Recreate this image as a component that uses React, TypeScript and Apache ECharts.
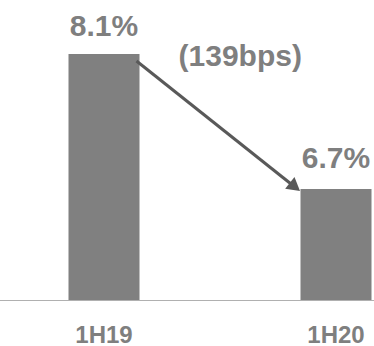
import React, { useEffect, useRef } from "react";
import * as echarts from "echarts";

// Half-year periods and their ratio values (%)
const categories = ["1H19", "1H20"];
const values = [8.1, 6.7];
const changeLabel = "(139bps)";

const BAR_COLOR = "#808080";
const TEXT_COLOR = "#7f7f7f";
const ARROW_COLOR = "#595959";
const FONT = "'Liberation Sans', Arial, sans-serif";
const BAR_WIDTH = 71;

// The plot is wider than the visible frame, so the second column sits
// near the right edge and the axis line runs across the whole frame.
const FRAME_W = 374;
const FRAME_H = 346;
const PLOT_OFFSET = -12.5;
const PLOT_W = 464;

export default function App() {
  const ref = useRef<HTMLDivElement>(null);

  useEffect(() => {
    if (!ref.current) return;
    const chart = echarts.init(ref.current, null, { renderer: "svg" });

    chart.setOption({
      animation: false,
      backgroundColor: "#ffffff",
      grid: { left: 0, right: 0, top: 54, bottom: 46 },
      xAxis: {
        type: "category",
        data: categories,
        axisLine: { show: true, lineStyle: { color: "#b0b0b0", width: 1 } },
        axisTick: { show: false },
        axisLabel: {
          color: TEXT_COLOR,
          fontFamily: FONT,
          fontWeight: "bold",
          fontSize: 24,
          margin: 22,
        },
      },
      yAxis: {
        type: "value",
        min: 5.55,
        max: 8.1,
        show: false,
        splitLine: { show: false },
      },
      series: [
        {
          type: "bar",
          barWidth: BAR_WIDTH,
          itemStyle: { color: BAR_COLOR },
          data: values.map((v, i) => ({
            value: v,
            label: { distance: i === 0 ? 14 : 17 },
          })),
          label: {
            show: true,
            position: "top",
            color: TEXT_COLOR,
            fontFamily: FONT,
            fontWeight: "bold",
            fontSize: 30,
            formatter: (p: any) => `${p.value.toFixed(1)}%`,
          },
        },
      ],
    });

    // Arrow from the top of the first bar to the top of the second
    const p0 = chart.convertToPixel({ gridIndex: 0 }, [categories[0], values[0]]) as number[];
    const p1 = chart.convertToPixel({ gridIndex: 0 }, [categories[1], values[1]]) as number[];
    const sx = p0[0] + BAR_WIDTH / 2 - 3;
    const sy = p0[1] + 7;
    const ex = p1[0] - BAR_WIDTH / 2 - 0.5;
    const ey = p1[1] + 2;
    const dx = ex - sx;
    const dy = ey - sy;
    const len = Math.hypot(dx, dy);
    const ux = dx / len;
    const uy = dy / len;
    const headLen = 13;
    const headHalf = 7.5;
    const bx = ex - ux * headLen;
    const by = ey - uy * headLen;
    const midX = (sx + ex) / 2;

    chart.setOption({
      graphic: [
        {
          type: "line",
          shape: { x1: sx, y1: sy, x2: bx + ux * 2, y2: by + uy * 2 },
          style: { stroke: ARROW_COLOR, lineWidth: 3 },
          z: 10,
        },
        {
          type: "polygon",
          shape: {
            points: [
              [ex, ey],
              [bx - uy * headHalf, by + ux * headHalf],
              [bx + uy * headHalf, by - ux * headHalf],
            ],
          },
          style: { fill: ARROW_COLOR },
          z: 10,
        },
        {
          type: "text",
          x: midX + 22,
          y: 55,
          style: {
            text: changeLabel,
            fill: TEXT_COLOR,
            font: `bold 30px ${FONT}`,
            textAlign: "center",
            textVerticalAlign: "middle",
          },
          z: 10,
        },
      ],
    });

    return () => chart.dispose();
  }, []);

  return (
    <div
      style={{
        position: "fixed",
        left: 0,
        top: 0,
        width: FRAME_W,
        height: FRAME_H,
        overflow: "hidden",
        background: "#ffffff",
      }}
    >
      <div
        ref={ref}
        style={{
          position: "absolute",
          left: PLOT_OFFSET,
          top: 0,
          width: PLOT_W,
          height: FRAME_H,
        }}
      />
    </div>
  );
}
